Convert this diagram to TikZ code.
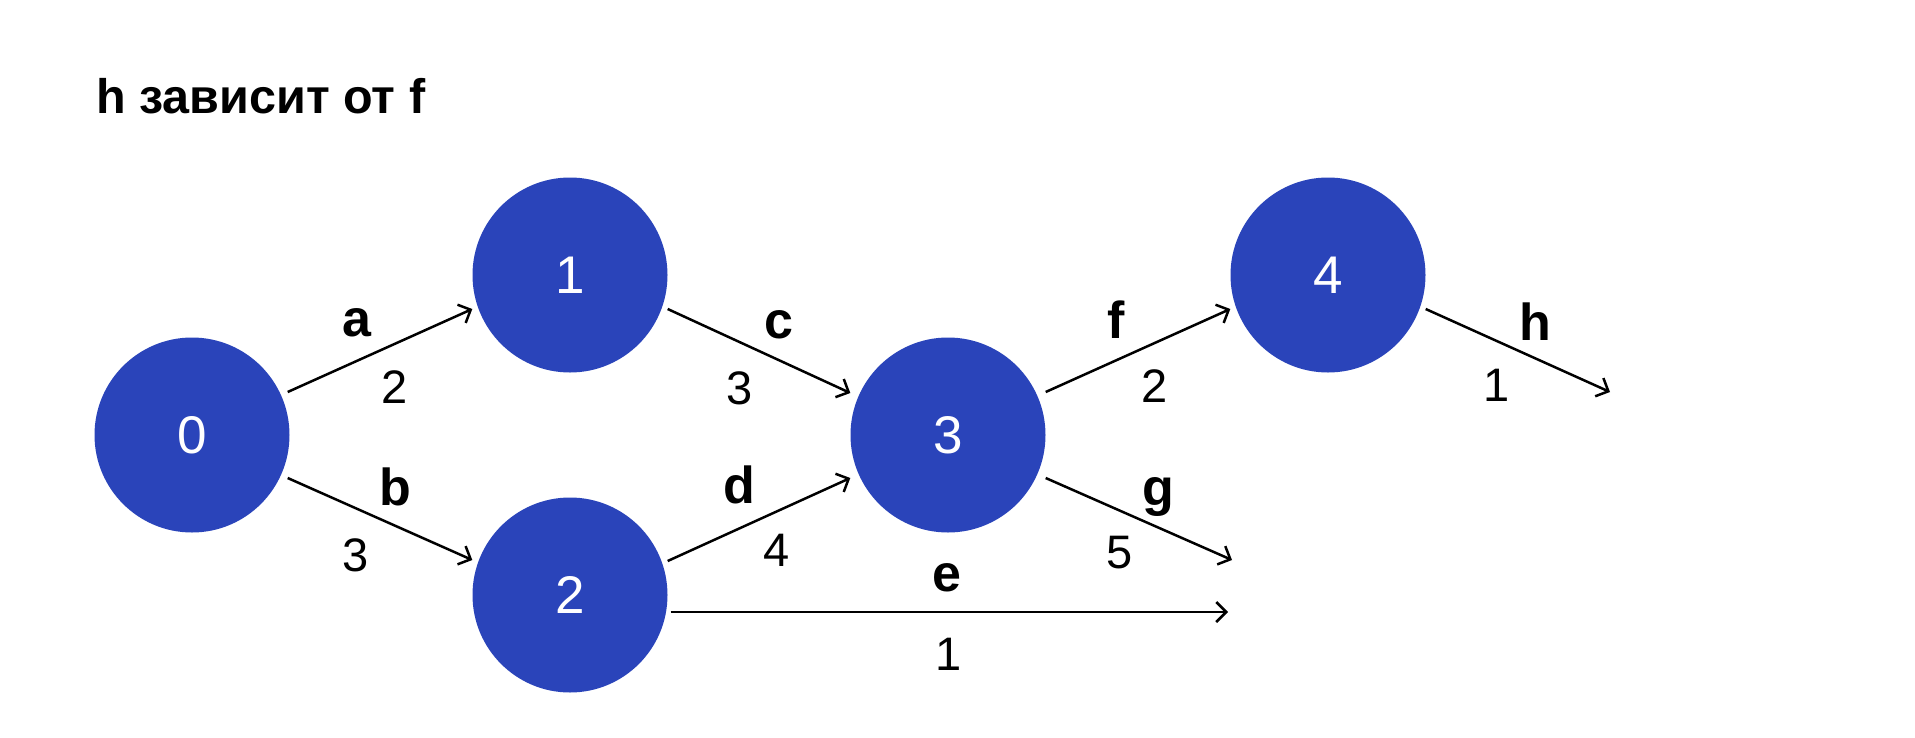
\documentclass[tikz,border=0pt]{standalone}
\usepackage{fontspec}
\setmainfont{Liberation Sans}
\usetikzlibrary{arrows.meta,calc}
\definecolor{nodeblue}{HTML}{2A44BA}
\begin{document}
\begin{tikzpicture}[x=1pt,y=-1pt,
  vertex/.style={circle,fill=nodeblue,minimum size=195pt,inner sep=0pt,text=white,font=\fontsize{53}{60}\selectfont},
  elabel/.style={font=\fontsize{52}{60}\selectfont\bfseries,inner sep=0pt},
  wlabel/.style={font=\fontsize{47}{56}\selectfont,inner sep=0pt},
  edge/.style={line width=2.5pt,-{Straight Barb[length=10pt,width=20pt,line width=2.5pt]}}]
\useasboundingbox (0,0) rectangle (1915,737);
\node[anchor=base west,inner sep=0pt,font=\fontsize{48.5}{56}\selectfont\bfseries] (title) at (96,113) {h зависит от f};
\node[vertex] (n0) at (192,435) {0};
\node[vertex] (n1) at (570,275) {1};
\node[vertex] (n2) at (570,595) {2};
\node[vertex] (n3) at (948,435) {3};
\node[vertex] (n4) at (1328,275) {4};
\coordinate (ee) at (1228,612);
\coordinate (ge) at (1232,560);
\coordinate (he) at (1610,392);
\draw[edge] ($(n0.east)+(-2,-43)$) -- ($(n1.west)+(0,34)$);
\draw[edge] ($(n0.east)+(-2,43)$) -- ($(n2.west)+(0,-35)$);
\draw[edge] ($(n1.east)+(0,34)$) -- ($(n3.west)+(0,-42)$);
\draw[edge] ($(n2.east)+(0,-34)$) -- ($(n3.west)+(0,43)$);
\draw[edge] ($(n2.east)+(3,17)$) -- (ee);
\draw[edge] ($(n3.east)+(0,-43)$) -- ($(n4.west)+(0,34)$);
\draw[edge] ($(n3.east)+(0,43)$) -- (ge);
\draw[edge] ($(n4.east)+(0,34)$) -- (he);
\node[elabel] (la) at (357,323) {a};
\node[wlabel] (wa) at (395,387) {2};
\node[elabel] (lb) at (395,487) {b};
\node[wlabel] (wb) at (356,555) {3};
\node[elabel] (lc) at (779,325) {c};
\node[wlabel] (wc) at (740,388) {3};
\node[elabel] (ld) at (739,485) {d};
\node[wlabel] (wd) at (777,550) {4};
\node[elabel] (le) at (947,578) {e};
\node[wlabel] (we) at (949,654) {1};
\node[elabel] (lf) at (1116,320) {f};
\node[wlabel] (wf) at (1155,386) {2};
\node[elabel] (lg) at (1158,497) {g};
\node[wlabel] (wg) at (1120,553) {5};
\node[elabel] (lh) at (1535,322) {h};
\node[wlabel] (wh) at (1497,385) {1};
\end{tikzpicture}
\end{document}
